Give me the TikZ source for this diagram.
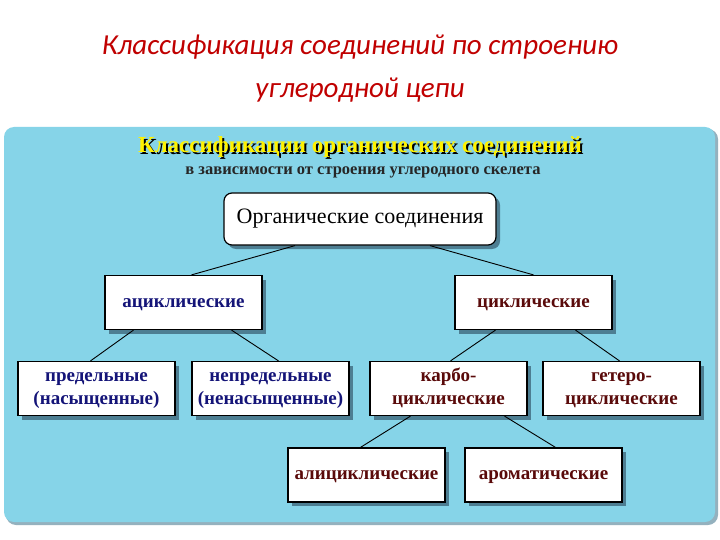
\documentclass[tikz,border=0pt]{standalone}
\usepackage{fontspec}
\setmainfont{Liberation Serif}
\newfontfamily\calib{Carlito}
\begin{document}
\begin{tikzpicture}[x=1pt,y=-1pt,
  bx/.style={draw=black,line width=1.2pt,fill=white,minimum width=157pt,minimum height=54pt,font=\bfseries\fontsize{19}{23}\selectfont,align=center,inner sep=1pt,
    preaction={fill=shd,draw=none,transform canvas={xshift=4pt,yshift=-4pt}}},
  ln/.style={line width=0.9pt,black}]
\definecolor{panel}{HTML}{86D4E8}
\definecolor{shd}{HTML}{4D7E92}
\definecolor{navyt}{HTML}{141478}
\definecolor{redt}{HTML}{5A0A0A}
\definecolor{ttl}{HTML}{C00000}
\useasboundingbox (0,0) rectangle (720,540);
\fill[white] (0,0) rectangle (720,540);
\fill[shd!60,rounded corners=10pt] (6,129) rectangle (718,525);
\fill[panel,rounded corners=10pt] (4,127) rectangle (715,522);
\node (t1) at (360,47) {\calib\itshape\color{ttl}\fontsize{29}{32}\selectfont Классификация соединений по строению};
\node (t2) at (360,90) {\calib\itshape\color{ttl}\fontsize{29}{32}\selectfont углеродной цепи};
\node[text=black] (h1s) at (362,149) {\bfseries\fontsize{23}{25}\selectfont Классификации органических соединений};
\node[text=yellow] (h1) at (360,147) {\bfseries\fontsize{23}{25}\selectfont Классификации органических соединений};
\node[text=black!85] (h2) at (363,172) {\bfseries\fontsize{16.5}{18}\selectfont в зависимости от строения углеродного скелета};
\node[bx,rounded corners=8pt,minimum width=272pt,minimum height=52pt,font=\fontsize{22}{25}\selectfont] (root) at (360,219) {\strut Органические соединения};
\node[bx,text=navyt] (ac) at (183.5,302.5) {\strut ациклические};
\node[bx,text=redt] (cy) at (533.5,302.5) {\strut циклические};
\node[bx,text=navyt] (pr) at (96.5,388.5) {\strut предельные\\\strut(насыщенные)};
\node[bx,text=navyt] (np) at (270.5,388.5) {\strut непредельные\\\strut(ненасыщенные)};
\node[bx,text=redt] (ka) at (448.5,388.5) {\strut карбо-\\\strut циклические};
\node[bx,text=redt] (ge) at (621.5,388.5) {\strut гетеро-\\\strut циклические};
\node[bx,text=redt] (al) at (366.5,475) {\strut алициклические};
\node[bx,text=redt] (ar) at (543.5,475) {\strut ароматические};
\draw[ln] ([xshift=-65pt]root.south) -- ([xshift=8pt]ac.north);
\draw[ln] ([xshift=70pt]root.south) -- ([xshift=0pt]cy.north);
\draw[ln] ([xshift=-50pt]ac.south) -- ([xshift=-6pt]pr.north);
\draw[ln] ([xshift=48pt]ac.south) -- ([xshift=8pt]np.north);
\draw[ln] ([xshift=-38pt]cy.south) -- ([xshift=2pt]ka.north);
\draw[ln] ([xshift=42pt]cy.south) -- ([xshift=-2pt]ge.north);
\draw[ln] ([xshift=-38pt]ka.south) -- ([xshift=-6pt]al.north);
\draw[ln] ([xshift=56pt]ka.south) -- ([xshift=12pt]ar.north);
\end{tikzpicture}
\end{document}
